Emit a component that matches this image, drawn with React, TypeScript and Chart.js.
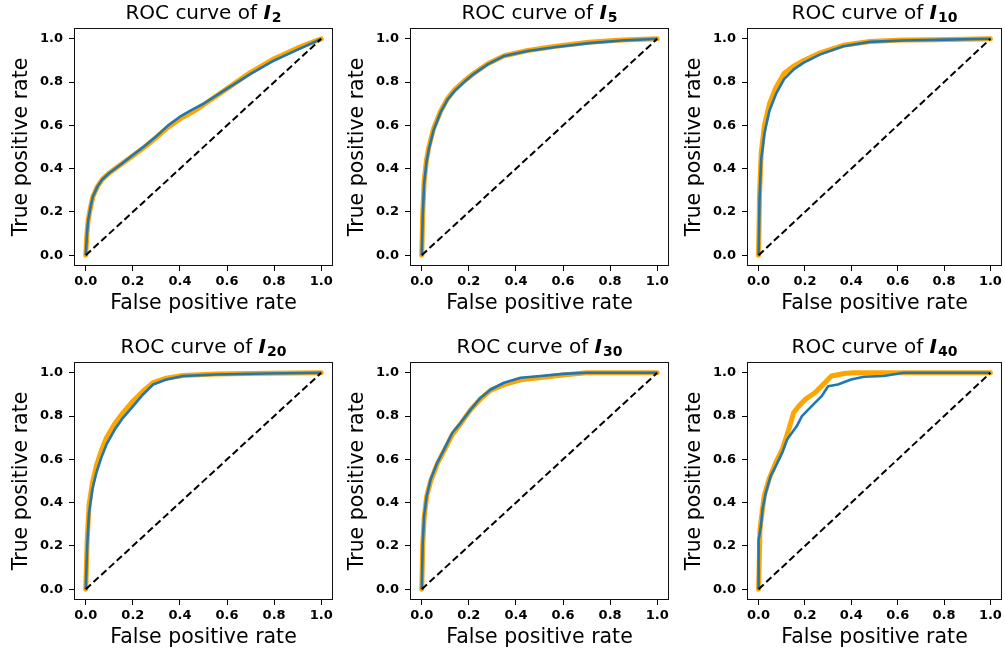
import React, { useEffect, useRef } from "react";
import { Chart, registerables } from "chart.js";

Chart.register(...registerables);

// ---------- text ----------
const TITLE_PREFIX = "ROC curve of ";
const TITLE_SYMBOL = "I";
const SUBSCRIPTS = ["2", "5", "10", "20", "30", "40"];
const X_LABEL = "False positive rate";
const Y_LABEL = "True positive rate";
const TICK_VALUES = [0, 0.2, 0.4, 0.6, 0.8, 1.0];
const TICK_LABELS = ["0.0", "0.2", "0.4", "0.6", "0.8", "1.0"];

// ---------- data ----------
const DIAG_FPR = [0, 1];
const DIAG_TPR = [0, 1];

const FPR_I2 = [0, 0.005, 0.01, 0.02, 0.03, 0.05, 0.07, 0.1, 0.15, 0.2, 0.25, 0.3, 0.35, 0.4, 0.45, 0.5, 0.6, 0.7, 0.8, 0.9, 1.0];
const TPR_I2_BLUE = [0, 0.1, 0.16, 0.22, 0.27, 0.318, 0.35, 0.38, 0.42, 0.463, 0.505, 0.55, 0.6, 0.64, 0.672, 0.7, 0.77, 0.838, 0.9, 0.95, 1.0];
const TPR_I2_ORANGE = [0, 0.1, 0.16, 0.22, 0.27, 0.318, 0.35, 0.38, 0.42, 0.46, 0.5, 0.545, 0.592, 0.63, 0.66, 0.695, 0.77, 0.845, 0.908, 0.958, 1.0];

const FPR_I5 = [0, 0.004, 0.01, 0.02, 0.03, 0.05, 0.08, 0.11, 0.14, 0.18, 0.22, 0.28, 0.35, 0.45, 0.57, 0.71, 0.85, 1.0];
const TPR_I5_BLUE = [0, 0.18, 0.33, 0.43, 0.49, 0.577, 0.661, 0.72, 0.76, 0.8, 0.837, 0.882, 0.921, 0.944, 0.962, 0.98, 0.992, 1.0];
const TPR_I5_ORANGE = [0, 0.19, 0.34, 0.44, 0.5, 0.585, 0.665, 0.725, 0.765, 0.805, 0.84, 0.885, 0.922, 0.946, 0.966, 0.984, 0.995, 1.0];

const FPR_I10 = [0, 0.004, 0.011, 0.025, 0.047, 0.075, 0.11, 0.153, 0.195, 0.266, 0.365, 0.48, 0.62, 0.76, 1.0];
const TPR_I10_BLUE = [0, 0.256, 0.44, 0.562, 0.669, 0.745, 0.814, 0.86, 0.89, 0.928, 0.966, 0.986, 0.992, 0.995, 1.0];
const TPR_I10_ORANGE = [0, 0.28, 0.47, 0.6, 0.7, 0.775, 0.84, 0.875, 0.9, 0.935, 0.97, 0.988, 0.994, 0.996, 1.0];

const FPR_I20 = [0, 0.006, 0.014, 0.028, 0.045, 0.066, 0.088, 0.123, 0.158, 0.201, 0.243, 0.286, 0.342, 0.413, 0.554, 0.767, 1.0];
const TPR_I20_BLUE = [0, 0.2, 0.354, 0.462, 0.538, 0.608, 0.669, 0.738, 0.792, 0.846, 0.9, 0.946, 0.969, 0.985, 0.992, 0.997, 1.0];
const TPR_I20_ORANGE = [0, 0.23, 0.39, 0.49, 0.57, 0.64, 0.7, 0.765, 0.815, 0.87, 0.915, 0.955, 0.975, 0.988, 0.994, 0.998, 1.0];

const FPR_I30 = [0, 0.004, 0.01, 0.021, 0.038, 0.066, 0.095, 0.13, 0.165, 0.208, 0.25, 0.293, 0.349, 0.42, 0.505, 0.6, 0.7, 1.0];
const TPR_I30_BLUE = [0, 0.215, 0.338, 0.431, 0.508, 0.585, 0.646, 0.723, 0.769, 0.831, 0.885, 0.923, 0.954, 0.977, 0.985, 0.995, 1.0, 1.0];
const TPR_I30_ORANGE = [0, 0.2, 0.33, 0.43, 0.5, 0.58, 0.64, 0.715, 0.765, 0.83, 0.88, 0.92, 0.945, 0.968, 0.978, 0.99, 1.0, 1.0];

const FPR_I40_BLUE = [0, 0, 0.003, 0.01, 0.017, 0.031, 0.052, 0.074, 0.102, 0.123, 0.144, 0.165, 0.187, 0.229, 0.272, 0.3, 0.342, 0.399, 0.455, 0.54, 0.625, 1.0];
const TPR_I40_BLUE = [0, 0.23, 0.246, 0.292, 0.369, 0.446, 0.523, 0.569, 0.631, 0.692, 0.723, 0.754, 0.8, 0.846, 0.892, 0.938, 0.946, 0.969, 0.982, 0.985, 1.0, 1.0];
const FPR_I40_ORANGE = [0, 0.006, 0.024, 0.045, 0.074, 0.102, 0.13, 0.151, 0.173, 0.201, 0.243, 0.286, 0.314, 0.37, 0.41, 1.0];
const TPR_I40_ORANGE = [0, 0.277, 0.431, 0.508, 0.585, 0.646, 0.738, 0.815, 0.846, 0.877, 0.908, 0.954, 0.985, 0.997, 1.0, 1.0];

const SERIES = [
  { sub: SUBSCRIPTS[0], fprO: FPR_I2, tprO: TPR_I2_ORANGE, fprB: FPR_I2, tprB: TPR_I2_BLUE },
  { sub: SUBSCRIPTS[1], fprO: FPR_I5, tprO: TPR_I5_ORANGE, fprB: FPR_I5, tprB: TPR_I5_BLUE },
  { sub: SUBSCRIPTS[2], fprO: FPR_I10, tprO: TPR_I10_ORANGE, fprB: FPR_I10, tprB: TPR_I10_BLUE },
  { sub: SUBSCRIPTS[3], fprO: FPR_I20, tprO: TPR_I20_ORANGE, fprB: FPR_I20, tprB: TPR_I20_BLUE },
  { sub: SUBSCRIPTS[4], fprO: FPR_I30, tprO: TPR_I30_ORANGE, fprB: FPR_I30, tprB: TPR_I30_BLUE },
  { sub: SUBSCRIPTS[5], fprO: FPR_I40_ORANGE, tprO: TPR_I40_ORANGE, fprB: FPR_I40_BLUE, tprB: TPR_I40_BLUE },
];

// ---------- layout ----------
const COL_LEFT = [74, 410, 747];
const COL_RIGHT = [333, 669, 1003];
const ROW_TOP = [28, 362];
const ROW_BOTTOM = [266, 600];
const CELL_X = [0, 336, 672];
const CELL_W = [336, 336, 333];
const CELL_Y = [0, 325];
const CELL_H = [325, 332];
const Y_W = 65;
const X_H = 50;
const FONT = '"DejaVu Sans", "Liberation Sans", sans-serif';

const toPoints = (xs: number[], ys: number[]) => xs.map((x, i) => ({ x, y: ys[i] }));

const titlePlugin = {
  id: "mathTitle",
  afterDraw(chart: any, _args: any, opts: any) {
    const { ctx, chartArea } = chart;
    const f1 = `20px ${FONT}`;
    const f2 = `italic bold 20px ${FONT}`;
    const f3 = `bold 14px ${FONT}`;
    ctx.save();
    ctx.font = f1;
    const w1 = ctx.measureText(TITLE_PREFIX).width;
    ctx.font = f2;
    const w2 = ctx.measureText(TITLE_SYMBOL).width;
    ctx.font = f3;
    const w3 = ctx.measureText(opts.sub).width;
    const total = w1 + w2 + 1 + w3;
    let x = (chartArea.left + chartArea.right) / 2 - total / 2;
    const y = chartArea.top - 9;
    ctx.fillStyle = "#000";
    ctx.textAlign = "left";
    ctx.textBaseline = "alphabetic";
    ctx.font = f1;
    ctx.fillText(TITLE_PREFIX, x, y);
    x += w1;
    ctx.font = f2;
    ctx.fillText(TITLE_SYMBOL, x, y);
    x += w2 + 1;
    ctx.font = f3;
    ctx.fillText(opts.sub, x, y + 3);
    ctx.restore();
  },
};

const boxPlugin = {
  id: "frameBox",
  afterDraw(chart: any) {
    const { ctx, chartArea } = chart;
    ctx.save();
    ctx.strokeStyle = "#111";
    ctx.lineWidth = 1;
    ctx.strokeRect(
      chartArea.left + 0.5,
      chartArea.top + 0.5,
      chartArea.right - chartArea.left - 1,
      chartArea.bottom - chartArea.top - 1
    );
    ctx.restore();
  },
};

function axis(title: string, isX: boolean) {
  return {
    type: "linear",
    min: -0.05,
    max: 1.05,
    afterBuildTicks: (scale: any) => {
      scale.ticks = TICK_VALUES.map((v) => ({ value: v }));
    },
    afterFit: (scale: any) => {
      if (isX) scale.height = X_H;
      else scale.width = Y_W;
    },
    ticks: {
      autoSkip: false,
      maxRotation: 0,
      padding: isX ? 3 : 6,
      color: "#000",
      font: { family: FONT, size: 13, weight: "bold" },
      callback: (_v: any, i: number) => TICK_LABELS[i],
    },
    grid: {
      display: true,
      drawOnChartArea: false,
      drawTicks: true,
      tickLength: 5,
      tickColor: "#000",
      tickWidth: 1,
    },
    border: { display: false },
    title: {
      display: true,
      text: title,
      color: "#000",
      padding: 0,
      font: { family: FONT, size: 20.5 },
    },
  };
}

function Panel({ idx }: { idx: number }) {
  const ref = useRef<HTMLCanvasElement | null>(null);
  const col = idx % 3;
  const row = Math.floor(idx / 3);
  const x0 = CELL_X[col];
  const y0 = CELL_Y[row];
  const w = CELL_W[col];
  const h = CELL_H[row];
  useEffect(() => {
    if (!ref.current) return;
    const s = SERIES[idx];
    const chart = new Chart(ref.current, {
      type: "scatter",
      data: {
        datasets: [
          {
            data: toPoints(DIAG_FPR, DIAG_TPR),
            showLine: true,
            borderColor: "#000",
            borderWidth: 2,
            borderDash: [7, 3.5],
            pointRadius: 0,
          },
          {
            data: toPoints(s.fprB, s.tprB),
            showLine: true,
            borderColor: "#1f77b4",
            borderWidth: 2.6,
            borderJoinStyle: "round",
            pointRadius: 0,
          },
          {
            data: toPoints(s.fprO, s.tprO),
            showLine: true,
            borderColor: "#ffa500",
            borderWidth: 5,
            borderJoinStyle: "round",
            borderCapStyle: "round",
            pointRadius: 0,
          },
        ],
      } as any,
      options: {
        responsive: false,
        animation: false,
        devicePixelRatio: 1,
        layout: {
          padding: {
            left: COL_LEFT[col] - x0 - Y_W,
            right: x0 + w - COL_RIGHT[col],
            top: ROW_TOP[row] - y0,
            bottom: y0 + h - ROW_BOTTOM[row] - X_H,
          },
        },
        plugins: {
          legend: { display: false },
          tooltip: { enabled: false },
          mathTitle: { sub: s.sub },
        } as any,
        scales: {
          x: axis(X_LABEL, true),
          y: axis(Y_LABEL, false),
        } as any,
      },
      plugins: [titlePlugin, boxPlugin],
    });
    return () => chart.destroy();
  }, [idx]);
  return (
    <canvas
      ref={ref}
      width={w}
      height={h}
      style={{ position: "absolute", left: x0, top: y0, width: w, height: h }}
    />
  );
}

export default function App() {
  return (
    <div
      style={{
        position: "fixed",
        left: 0,
        top: 0,
        width: 1005,
        height: 657,
        background: "#fff",
        overflow: "hidden",
      }}
    >
      {SERIES.map((_, i) => (
        <Panel key={i} idx={i} />
      ))}
    </div>
  );
}
